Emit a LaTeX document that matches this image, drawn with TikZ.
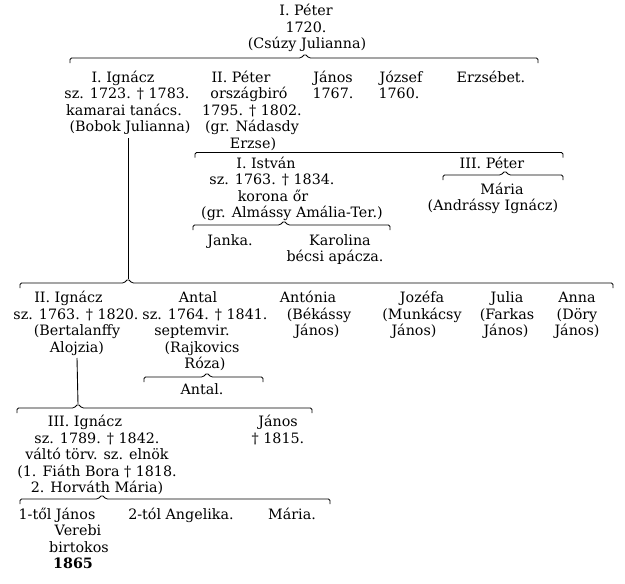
\documentclass[tikz,border=0pt]{standalone}
\usepackage{fontspec}
\setmainfont{DejaVu Serif}
\tikzset{
  t/.style={anchor=base,inner sep=0pt,font=\fontsize{14.3}{16.5}\selectfont},
  brl/.style={line width=0.8pt,rounded corners=1.5pt},
  stem/.style={line width=0.9pt}
}
\newcommand\famline[5]{% name, y, left, peak, right
  \coordinate (#1) at (#4,#2-4);
  \draw[brl] (#3,#2+5) -- (#3,#2) -- (#4-4,#2) -- (#1) -- (#4+4,#2) -- (#5,#2) -- (#5,#2+5);}
\begin{document}
\begin{tikzpicture}[x=1pt,y=-1pt]
\useasboundingbox (0,0) rectangle (625,584);
\fill[white] (0,0) rectangle (625,584);

% top
\node[t] (p1a) at (306,15) {I. Péter};
\node[t] (p1b) at (306,32) {1720.};
\node[t] (p1c) at (307,48.5) {(Csúzy Julianna)};
\famline{b0}{58}{70}{305}{538}

% row 1
\node[t] (ia1) at (123,82) {I. Ignácz};
\node[t] (ia2) at (127,98.5) {sz. 1723. † 1783.};
\node[t] (ia3) at (124,115) {kamarai tanács.};
\node[t] (ia4) at (130,131.5) {(Bobok Julianna)};
\node[t] (pb1) at (241,82) {II. Péter};
\node[t] (pb2) at (249,98.5) {országbiró};
\node[t] (pb3) at (252,115) {1795. † 1802.};
\node[t] (pb4) at (252,131.5) {(gr. Nádasdy};
\node[t] (pb5) at (253,148) {Erzse)};
\node[t] (ja1) at (333,82) {János};
\node[t] (ja2) at (333,98.5) {1767.};
\node[t] (jo1) at (401,82) {József};
\node[t] (jo2) at (399,98.5) {1760.};
\node[t] (er1) at (491,82) {Erzsébet.};

% children of II. Péter
\draw[brl] (195,157.5) -- (195,152.5) -- (563,152.5) -- (563,157.5);
\node[t] (is1) at (266,168) {I. István};
\node[t] (is2) at (272,184.5) {sz. 1763. † 1834.};
\node[t] (is3) at (273,201) {korona őr};
\node[t] (is4) at (292,217.5) {(gr. Almássy Amália-Ter.)};
\node[t] (pc1) at (492,168) {III. Péter};
\famline{b3}{175}{443}{505}{563}
\node[t] (pc2) at (502,194) {Mária};
\node[t] (pc3) at (493,210.5) {(Andrássy Ignácz)};
\famline{b2}{225}{193}{284}{390}
\node[t] (jk1) at (230,245) {Janka.};
\node[t] (ka1) at (340,245) {Karolina};
\node[t] (ka2) at (335,261.5) {bécsi apácza.};

% children of I. Ignácz
\coordinate (iastem) at (128,138);
\famline{b4}{283}{20}{128}{613}
\draw[stem] (iastem) -- (b4);
\node[t] (ib1) at (68.5,302.5) {II. Ignácz};
\node[t] (ib2) at (76,319) {sz. 1763. † 1820.};
\node[t] (ib3) at (77,335.5) {(Bertalanffy};
\node[t] (ib4) at (77,352) {Alojzia)};
\node[t] (an1) at (198,302.5) {Antal};
\node[t] (an2) at (205,319) {sz. 1764. † 1841.};
\node[t] (an3) at (192,335.5) {septemvir.};
\node[t] (an4) at (202,352) {(Rajkovics};
\node[t] (an5) at (205,368.5) {Róza)};
\node[t] (at1) at (308,302.5) {Antónia};
\node[t] (at2) at (319,319) {(Békássy};
\node[t] (at3) at (317,335.5) {János)};
\node[t] (jz1) at (422,302.5) {Jozéfa};
\node[t] (jz2) at (422,319) {(Munkácsy};
\node[t] (jz3) at (414,335.5) {János)};
\node[t] (ju1) at (507,302.5) {Julia};
\node[t] (ju2) at (507,319) {(Farkas};
\node[t] (ju3) at (506,335.5) {János)};
\node[t] (as1) at (577,302.5) {Anna};
\node[t] (as2) at (577,319) {(Döry};
\node[t] (as3) at (577,335.5) {János)};

% child of Antal
\famline{b5}{377}{144}{207}{263}
\node[t] (ac1) at (202,394) {Antal.};

% children of II. Ignácz
\coordinate (ibstem) at (77,358);
\famline{b6}{408}{17}{78}{312}
\draw[stem] (ibstem) -- (b6);
\node[t] (ic1) at (85,426.5) {III. Ignácz};
\node[t] (ic2) at (97,443) {sz. 1789. † 1842.};
\node[t] (ic3) at (97,459.5) {váltó törv. sz. elnök};
\node[t] (ic4) at (97,476) {(1. Fiáth Bora † 1818.};
\node[t] (ic5) at (97,492.5) {2. Horváth Mária)};
\node[t] (jb1) at (278,426.5) {János};
\node[t] (jb2) at (278,443) {† 1815.};

% children of III. Ignácz
\famline{b7}{499}{20}{102}{330}
\node[t] (jc1) at (57,519) {1-től János};
\node[t] (jc2) at (78,535.5) {Verebi};
\node[t] (jc3) at (79,552) {birtokos};
\node[t,font=\fontsize{14.3}{16.5}\selectfont\bfseries] (jc4) at (73,568.5) {1865};
\node[t] (ag1) at (181,519) {2-tól Angelika.};
\node[t] (ma1) at (292,519) {Mária.};
\end{tikzpicture}
\end{document}
